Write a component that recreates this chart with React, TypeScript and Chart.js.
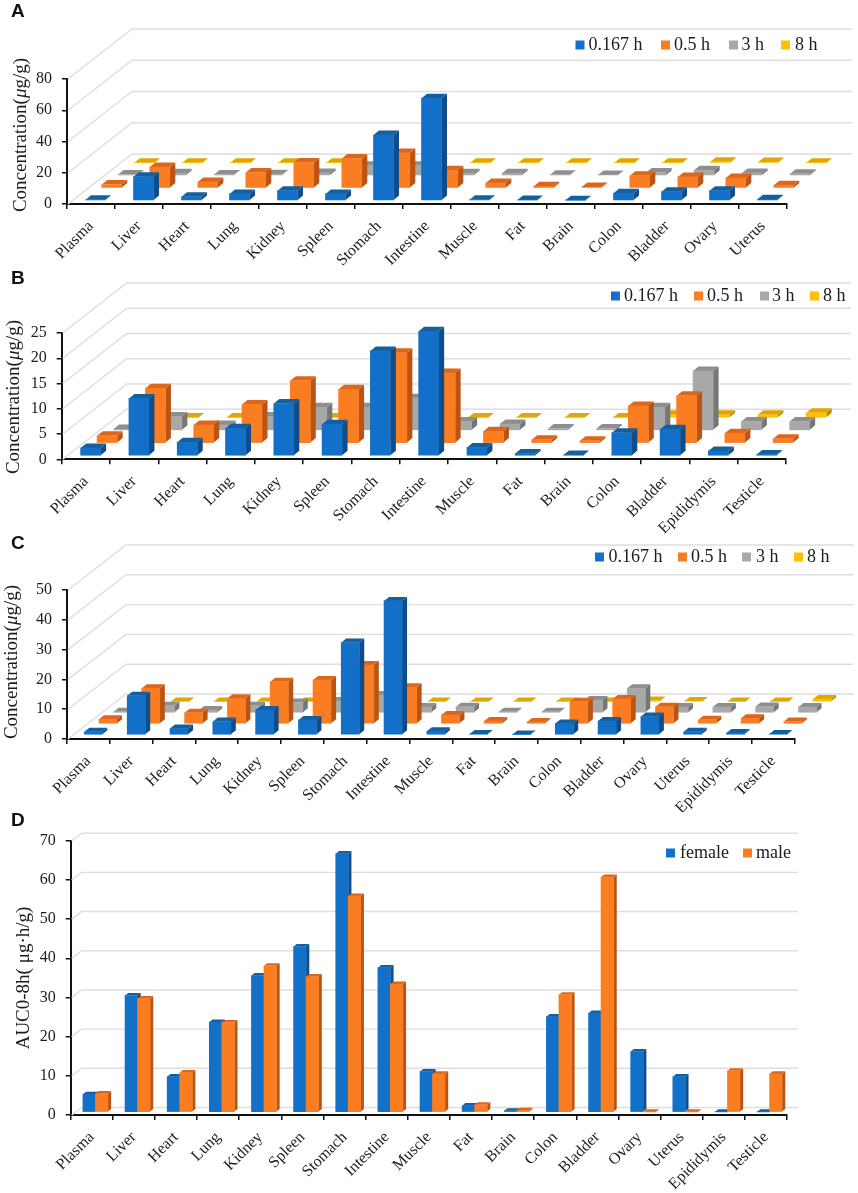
import React, { useEffect, useRef } from "react";
import { Chart, registerables } from "chart.js";

Chart.register(...registerables);

// ---------- data ----------
const categoriesA = ["Plasma","Liver","Heart","Lung","Kidney","Spleen","Stomach","Intestine","Muscle","Fat","Brain","Colon","Bladder","Ovary","Uterus"];
const categoriesB = ["Plasma","Liver","Heart","Lung","Kidney","Spleen","Stomach","Intestine","Muscle","Fat","Brain","Colon","Bladder","Epididymis","Testicle"];
const categoriesAll = ["Plasma","Liver","Heart","Lung","Kidney","Spleen","Stomach","Intestine","Muscle","Fat","Brain","Colon","Bladder","Ovary","Uterus","Epididymis","Testicle"];

const timeLabels = ["0.167 h", "0.5 h", "3 h", "8 h"];
const sexLabels = ["female", "male"];

const a0167 = [0.6,15.4,2.5,4.3,6.4,4.3,42,65.5,0.6,0.4,0.3,4.7,5.8,6.4,0.9];
const a05 = [2.3,13.6,4,10,16.4,19,22.6,11.5,3.4,1.2,0.7,7.9,7.2,6.6,1.9];
const a3 = [0.7,1.5,0.7,1,1.8,6.4,6.4,1.5,1.5,0.6,0.5,2,3.5,1.8,1.2];
const a8 = [0.3,0.3,0.3,0.3,0.3,0.3,0.3,0.3,0.3,0.3,0.3,0.3,1,0.7,0.3];

const b0167 = [1.6,11.4,2.7,5.5,10.4,6.3,20.8,24.7,1.7,0.5,0.2,4.6,5.3,1,0.3];
const b05 = [1.5,10.9,3.6,7.7,12.4,10.7,17.9,13.9,2.4,0.7,0.5,7.4,9.4,2,0.9];
const b3 = [0.3,2.8,1.1,2.8,4.6,4.6,6.4,1.8,1.3,0.4,0.4,4.6,11.8,1.8,1.8];
const b8 = [0.1,0.1,0.1,0.1,0.1,0.1,0.1,0.1,0.1,0.1,0.1,0.6,0.6,0.6,1];

const c0167 = [1.1,13.2,2.2,4.5,8.4,5,31,45,1.3,0.3,0.2,3.9,4.7,6.2,1.1,0.7,0.3];
const c05 = [1.6,12,3.8,8.6,14.2,14.8,19.8,12.3,3,1,0.7,7.5,8.4,5.8,1.4,1.9,0.8];
const c3 = [0.4,2.4,1,2.4,3.5,4,6,2,2.1,0.4,0.4,4.4,8.3,2,2,2.2,2];
const c8 = [0.2,0.2,0.2,0.2,0.2,0.2,0.2,0.2,0.2,0.2,0.2,0.2,0.5,0.3,0.2,0.2,1];

const dFemale = [4.6,29.8,9.1,23,34.9,42.3,66,36.9,10.4,1.7,0.4,24.4,25.3,15.5,9.1,0.1,0.1];
const dMale = [4.8,29,10.1,22.9,37.4,34.6,55.2,32.7,9.8,1.9,0.5,30,60,0.1,0.1,10.6,9.8];

// ---------- styles ----------
const SERIF = "'Liberation Serif', serif";
const TEXT = "#1c1c1c";
const faces = [
  { front: "#1270c8", top: "#14609f", side: "#0f4c88" },
  { front: "#fb7d22", top: "#dc661c", side: "#b95414" },
  { front: "#a8a8a8", top: "#8e8e8e", side: "#767676" },
  { front: "#ffc000", top: "#dfa606", side: "#b88a00" },
];

type Panel = {
  letter: string; letterY: number; top: number; height: number;
  labels: string[]; names: string[]; series: number[][];
  max: number; step: number;
  axisX: number; axisTop: number; axisBottom: number; axisRight: number;
  wallX: number; wallY: number;
  barW: number; sx0: number; sxStep: number; sy0: number; syStep: number; depthX: number; depthY: number;
  title: string; italic?: string; titleX: number; titleY: number;
  legendY: number; legendBox: number[]; legendText: number[];
  blueBehind?: boolean;
};

const panels: Panel[] = [
  { letter: "A", letterY: 17, top: 0, height: 272, labels: categoriesA, names: timeLabels, series: [a0167,a05,a3,a8],
    max: 80, step: 20, axisX: 67, axisTop: 79, axisBottom: 204, axisRight: 787, wallX: 65, wallY: 50,
    barW: 20, sx0: 4.5, sxStep: 16.3, sy0: 3.3, syStep: 12.5, depthX: 5.5, depthY: 4.5,
    title: "Concentration(μg/g)", italic: "μ", titleX: 21, titleY: 135,
    legendY: 45, legendBox: [575.5,661,729,781], legendText: [588.5,674,741.5,795] },
  { letter: "B", letterY: 284, top: 268, height: 266, labels: categoriesB, names: timeLabels, series: [b0167,b05,b3,b8],
    max: 25, step: 5, axisX: 61.7, axisTop: 333, axisBottom: 459.3, axisRight: 786, wallX: 65, wallY: 50,
    barW: 20, sx0: 4.8, sxStep: 16.5, sy0: 3.3, syStep: 12.7, depthX: 5.5, depthY: 4.5,
    title: "Concentration(μg/g)", italic: "μ", titleX: 14, titleY: 397,
    legendY: 296, legendBox: [611,694,760,810], legendText: [624,707,772,823] },
  { letter: "C", letterY: 549, top: 528, height: 284, labels: categoriesAll, names: timeLabels, series: [c0167,c05,c3,c8],
    max: 50, step: 10, axisX: 67, axisTop: 590, axisBottom: 739, axisRight: 794.7, wallX: 59, wallY: 45,
    barW: 18, sx0: 5, sxStep: 14.6, sy0: 4, syStep: 11, depthX: 5, depthY: 4,
    title: "Concentration(μg/g)", italic: "μ", titleX: 12, titleY: 662,
    legendY: 557, legendBox: [595,678,742,794], legendText: [608.5,691,756,807] },
  { letter: "D", letterY: 826, top: 800, height: 393, labels: categoriesAll, names: sexLabels, series: [dFemale,dMale],
    max: 70, step: 10, axisX: 70.7, axisTop: 840.7, axisBottom: 1115, axisRight: 787, wallX: 11, wallY: 7.5,
    barW: 12.5, sx0: -2.6, sxStep: 12.5, sy0: 2.7, syStep: 0, depthX: 3.2, depthY: 2.6,
    title: "AUC0-8h( μg·h/g)", titleX: 24, titleY: 978,
    legendY: 853, legendBox: [666,743], legendText: [680,756], blueBehind: true },
];

function poly(ctx: CanvasRenderingContext2D, pts: number[][], color: string) {
  ctx.fillStyle = color;
  ctx.beginPath();
  pts.forEach((p, i) => (i ? ctx.lineTo(p[0], p[1]) : ctx.moveTo(p[0], p[1])));
  ctx.closePath();
  ctx.fill();
}

function makePlugin(p: Panel) {
  return {
    id: "depth3d" + p.letter,
    beforeDatasetsDraw(chart: any) {
      const { ctx, chartArea, scales } = chart;
      ctx.save();
      ctx.strokeStyle = "#dedede";
      ctx.lineWidth = 1.4;
      scales.y.ticks.forEach((t: any) => {
        const y = scales.y.getPixelForValue(t.value);
        ctx.beginPath();
        ctx.moveTo(chartArea.left + 1, y);
        ctx.lineTo(chartArea.left + p.wallX, y - p.wallY);
        ctx.lineTo(chartArea.right + p.wallX, y - p.wallY);
        ctx.stroke();
      });
      ctx.restore();
    },
    beforeDatasetDraw(chart: any, args: any) {
      const { ctx } = chart;
      const i = args.index;
      const f = faces[i];
      ctx.save();
      ctx.translate(p.sx0 + i * p.sxStep, -p.sy0 - i * p.syStep);
      args.meta.data.forEach((bar: any) => {
        const { x, y, base, width } = bar.getProps(["x", "y", "base", "width"], true);
        const x2 = x + width / 2, x1 = x - width / 2;
        poly(ctx, [[x2, y], [x2 + p.depthX, y - p.depthY], [x2 + p.depthX, base - p.depthY], [x2, base]], f.side);
        poly(ctx, [[x1, y], [x2, y], [x2 + p.depthX, y - p.depthY], [x1 + p.depthX, y - p.depthY]], f.top);
      });
    },
    afterDatasetDraw(chart: any) {
      chart.ctx.restore();
    },
    afterDraw(chart: any) {
      const { ctx } = chart;
      ctx.save();
      // panel letter
      ctx.fillStyle = "#111";
      ctx.font = "bold 19px 'Liberation Sans', sans-serif";
      ctx.textAlign = "left";
      ctx.textBaseline = "alphabetic";
      ctx.fillText(p.letter, 11, p.letterY - p.top);
      // legend
      ctx.textBaseline = "middle";
      ctx.font = "18px " + SERIF;
      p.names.forEach((name, i) => {
        ctx.fillStyle = faces[i].front;
        ctx.fillRect(p.legendBox[i], p.legendY - p.top - 4.5, 9, 9);
        ctx.fillStyle = TEXT;
        ctx.fillText(name, p.legendText[i], p.legendY - p.top);
      });
      // axis title with an italic mu in the concentration panels
      ctx.translate(p.titleX, p.titleY - p.top);
      ctx.rotate(-Math.PI / 2);
      ctx.textBaseline = "middle";
      ctx.fillStyle = TEXT;
      const parts = p.italic ? p.title.split(p.italic) : [p.title];
      const fonts = ["19px " + SERIF, "italic 19px " + SERIF];
      const pieces = p.italic ? [[parts[0], fonts[0]], [p.italic, fonts[1]], [parts[1], fonts[0]]] : [[p.title, fonts[0]]];
      let w = 0;
      pieces.forEach(([t, fnt]) => { ctx.font = fnt; w += ctx.measureText(t).width; });
      let x = -w / 2;
      pieces.forEach(([t, fnt]) => { ctx.font = fnt; ctx.fillText(t, x, 0); x += ctx.measureText(t).width; });
      ctx.restore();
    },
  };
}

function PanelChart({ p }: { p: Panel }) {
  const ref = useRef<HTMLCanvasElement>(null);
  useEffect(() => {
    const chart = new Chart(ref.current as HTMLCanvasElement, {
      type: "bar",
      data: {
        labels: p.labels,
        datasets: p.series.map((values, i) => ({
          label: p.names[i],
          data: values,
          backgroundColor: faces[i].front,
          borderWidth: 0,
          barThickness: p.barW,
          grouped: false,
          clip: false,
          order: p.blueBehind ? p.series.length - i : i,
        })),
      } as any,
      options: {
        responsive: false,
        animation: false,
        devicePixelRatio: 1,
        layout: { padding: { left: 0, top: p.axisTop - p.top, right: 858 - p.axisRight, bottom: 0 } },
        plugins: { legend: { display: false }, tooltip: { enabled: false } },
        scales: {
          x: {
            offset: true,
            grid: { offset: true, drawOnChartArea: false, drawTicks: true, tickLength: 5, color: "#111", lineWidth: 1.5 },
            border: { display: true, color: "#111", width: 2 },
            ticks: { autoSkip: false, minRotation: 45, maxRotation: 45, padding: 8, color: TEXT, font: { family: SERIF, size: 16 } },
            afterFit: (s: any) => {
              s.height = p.height - (p.axisBottom - p.top);
              s.paddingLeft = s.paddingRight = s.paddingTop = s.paddingBottom = 0;
            },
          },
          y: {
            min: 0,
            max: p.max,
            grid: { drawOnChartArea: false, drawTicks: true, tickLength: 5, color: "#111", lineWidth: 1.5 },
            border: { display: true, color: "#111", width: 2 },
            ticks: { stepSize: p.step, padding: 10, color: TEXT, font: { family: SERIF, size: 16 } },
            afterFit: (s: any) => {
              s.width = p.axisX;
              s.paddingLeft = s.paddingRight = s.paddingTop = s.paddingBottom = 0;
            },
          },
        },
      } as any,
      plugins: [makePlugin(p)] as any,
    });
    return () => chart.destroy();
  }, [p]);
  return (
    <canvas
      ref={ref}
      width={858}
      height={p.height}
      style={{ position: "absolute", left: 0, top: p.top, width: 858, height: p.height }}
    />
  );
}

export default function App() {
  useEffect(() => {
    document.body.style.margin = "0";
    document.body.style.background = "#fff";
  }, []);
  return (
    <div style={{ position: "relative", width: 858, height: 1193, overflow: "hidden", background: "#fff" }}>
      {panels.map((p) => (
        <PanelChart key={p.letter} p={p} />
      ))}
    </div>
  );
}
